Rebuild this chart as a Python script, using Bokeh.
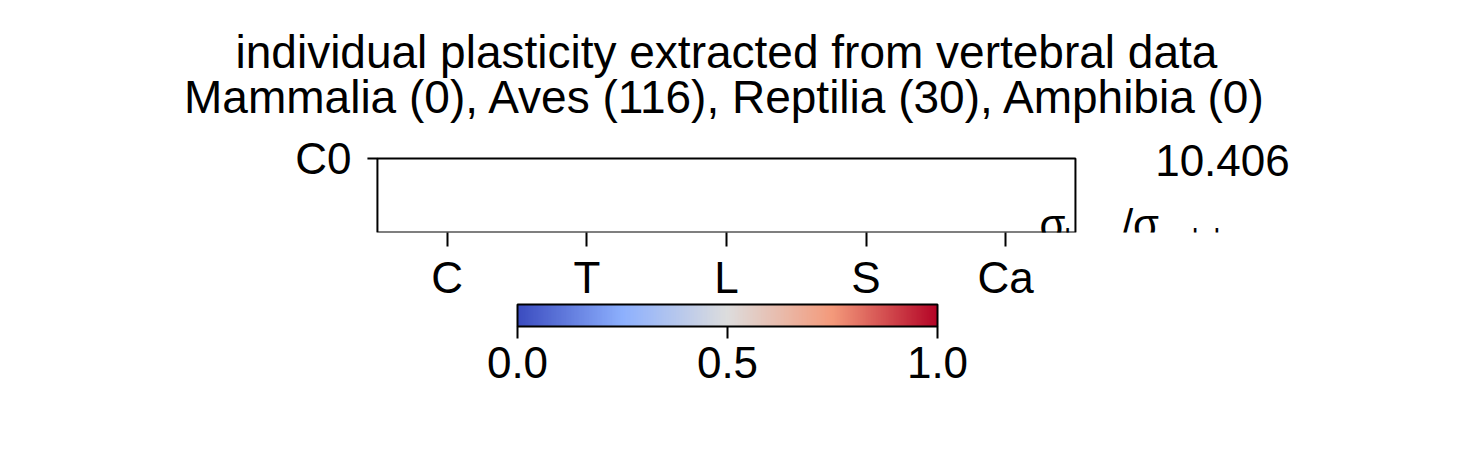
from bokeh.plotting import figure
from bokeh.models import (ColorBar, LinearColorMapper, FixedTicker, Label, Range1d)
from bokeh.embed import file_html
from bokeh.resources import INLINE
import numpy as np

title_lines = ["individual plasticity extracted from vertebral data",
               "Mammalia (0), Aves (116), Reptilia (30), Amphibia (0)"]
categories = ["C", "T", "L", "S", "Ca"]
row_labels = ["C0"]
max_value = 10.406
cbar_ticks = [0.0, 0.5, 1.0]

anchors = [(0.0, (59, 76, 192)), (0.25, (141, 176, 254)), (0.5, (221, 221, 221)),
           (0.75, (244, 154, 123)), (1.0, (180, 4, 38))]
pal = []
for t in np.linspace(0, 1, 256):
    for (t0, c0), (t1, c1) in zip(anchors[:-1], anchors[1:]):
        if t0 <= t <= t1:
            f = (t - t0) / (t1 - t0)
            c = tuple(int(round(a + (b - a) * f)) for a, b in zip(c0, c1))
            pal.append("#%02x%02x%02x" % c)
            break

FONT = "Liberation Sans"
n = len(categories)
p = figure(width=1453, height=440, output_backend="svg", toolbar_location=None,
           x_range=Range1d(-2.70, 7.708), y_range=Range1d(0, 3.135),
           min_border_left=0, min_border_right=0, min_border_top=0, min_border_bottom=208)
p.grid.visible = False
p.outline_line_color = None
p.yaxis.visible = False
p.title.visible = False

p.quad(left=0, right=n, bottom=0, top=len(row_labels), fill_color=None,
       line_color="black", line_width=2)
p.ray(x=[0], y=[len(row_labels)], length=10, length_units="screen", angle=np.pi,
      line_color="black", line_width=2)
p.add_layout(Label(x=0, y=len(row_labels), x_offset=-26, text=row_labels[0], text_font=FONT,
                   text_font_size="44px", text_align="right", text_baseline="middle",
                   text_color="black"))

p.xaxis.ticker = FixedTicker(ticks=[i + 0.5 for i in range(n)])
p.xaxis.major_label_overrides = {i + 0.5: c for i, c in enumerate(categories)}
ax = p.xaxis[0]
ax.axis_line_color = None
ax.minor_tick_line_color = None
ax.major_tick_out = 14
ax.major_tick_in = 0
ax.major_tick_line_width = 2
ax.major_label_text_font = FONT
ax.major_label_text_font_size = "44px"
ax.major_label_text_color = "black"
ax.major_label_standoff = 6

for i, (line, off) in enumerate(zip(title_lines, [106, 61])):
    p.add_layout(Label(x=n / 2, y=len(row_labels), y_offset=off, text=line, text_font=FONT,
                       text_font_size="46px", text_align="center", text_baseline="middle",
                       text_color="black"))

mapper = LinearColorMapper(palette=pal, low=0, high=1)
cb = ColorBar(color_mapper=mapper, orientation="horizontal", width=420, height=22,
              location=(517, 0), ticker=FixedTicker(ticks=cbar_ticks),
              major_label_overrides={0: "0.0", 0.5: "0.5", 1: "1.0"},
              major_label_text_font=FONT, major_label_text_font_size="44px",
              major_label_text_color="black",
              major_tick_line_color="black", major_tick_out=12, major_tick_in=0,
              major_tick_line_width=2, minor_tick_line_color=None,
              bar_line_color="black", bar_line_width=2, padding=0, margin=20,
              label_standoff=8, background_fill_color=None)
p.add_layout(cb, "below")

p.add_layout(Label(x=n, y=len(row_labels), x_offset=147, y_offset=-2, text="%.3f" % max_value,
                   text_font=FONT, text_font_size="44px", text_align="center",
                   text_baseline="middle", text_color="black"))
for txt, xo, yo, fs in [("σ", -36, 8, "42px"), ("loc.", -11, -6, "28px"),
                        ("/σ", 46, 8, "42px"), ("glob.", 101, -6, "28px")]:
    p.add_layout(Label(x=n, y=0, x_offset=xo, y_offset=yo, text=txt, text_font=FONT,
                       text_font_size=fs, text_align="left", text_baseline="middle",
                       text_color="black"))

open("out.html", "w").write(file_html(p, INLINE))
